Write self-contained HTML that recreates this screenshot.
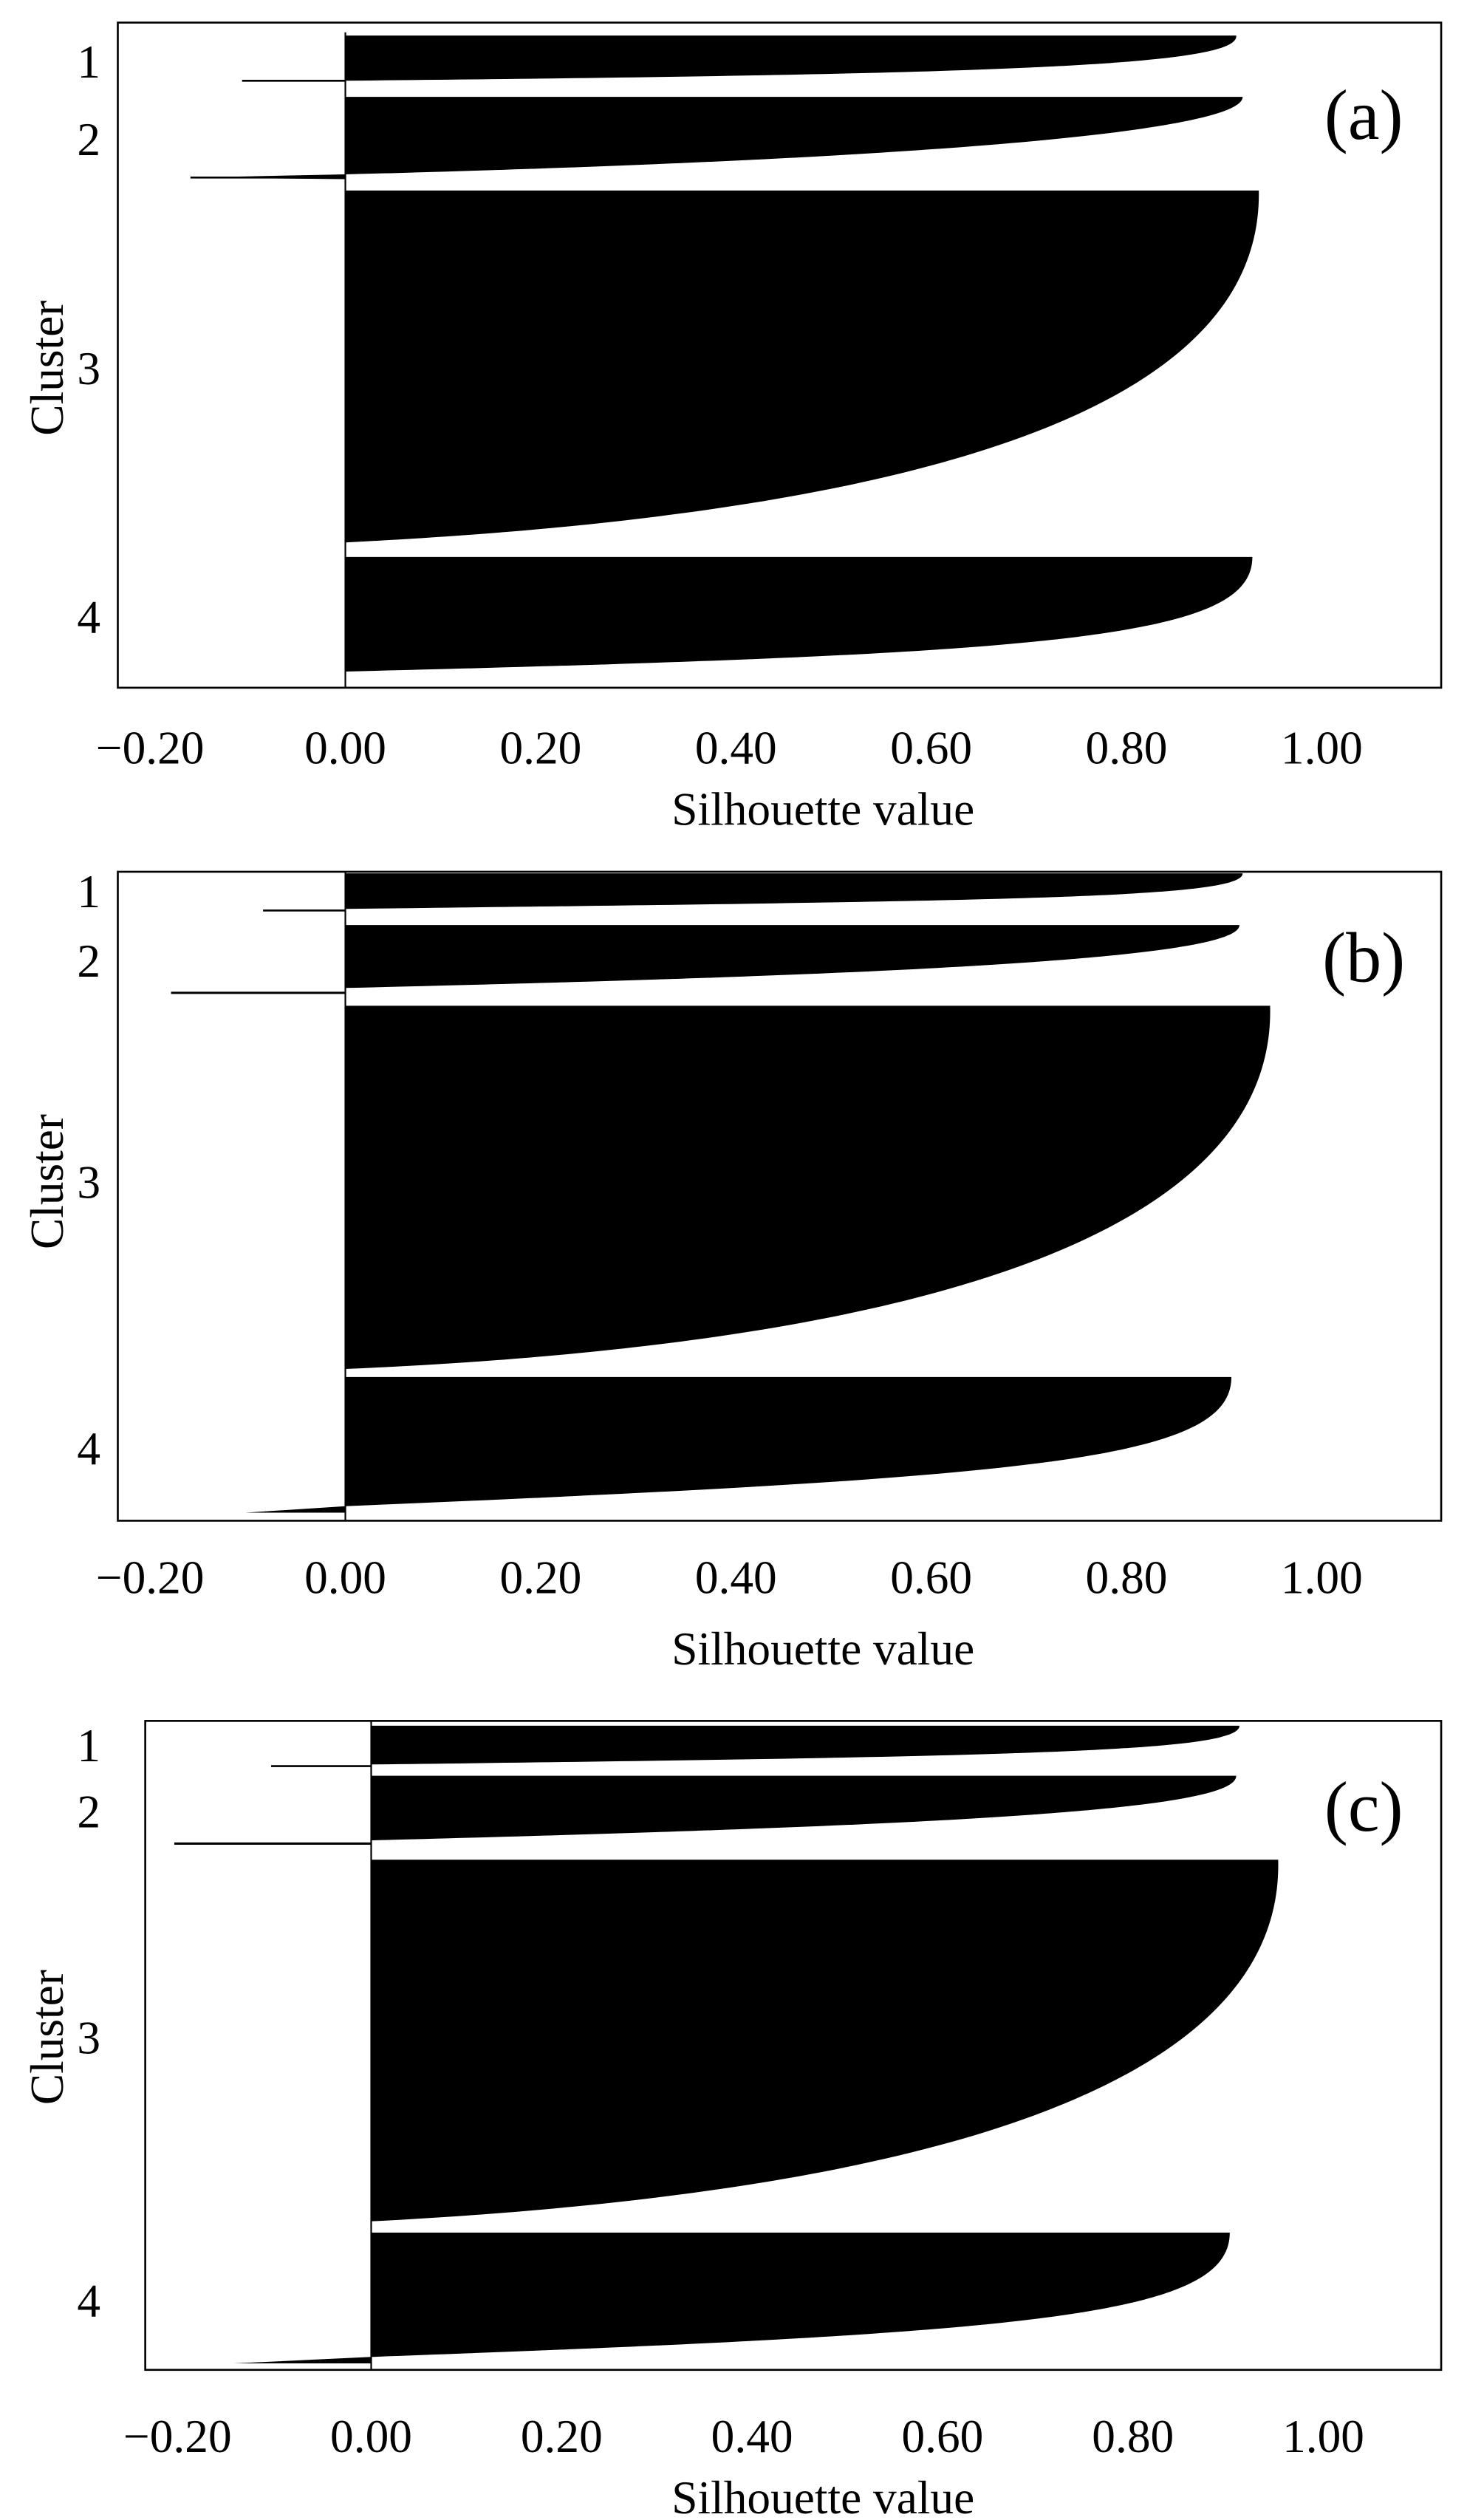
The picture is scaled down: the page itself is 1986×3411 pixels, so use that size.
<!DOCTYPE html>
<html><head><meta charset="utf-8"><style>
html,body{margin:0;padding:0;background:#fff;}
svg{display:block;}
text{font-family:"Liberation Serif",serif;fill:#000;}
</style></head><body>
<svg width="1986" height="3411" viewBox="0 0 909 1561" preserveAspectRatio="none" xmlns="http://www.w3.org/2000/svg">
<!-- Panel a -->
<g>
<rect x="73" y="14" width="820" height="412" fill="none" stroke="#000" stroke-width="1.2"/>
<line x1="214" y1="20" x2="214" y2="426" stroke="#000" stroke-width="1"/>
<path d="M214,22 L766,22 C768,40 640,46 214,50 Z"/>
<line x1="150" y1="50" x2="214" y2="50" stroke="#000" stroke-width="1.2"/>
<path d="M214,60 L770,60 C770,80 600,98 214,108 Z"/>
<path d="M118,110 L214,108 L214,111 Z"/>
<line x1="118" y1="110" x2="214" y2="110" stroke="#000" stroke-width="1.2"/>
<path d="M214,118 L780,118 C782,230 640,315 214,336 Z"/>
<path d="M214,345 L776,345 C776,395 660,405 214,416 Z"/>
<g font-size="29" text-anchor="middle">
<text x="93" y="473">−0.20</text><text x="214" y="473">0.00</text><text x="335" y="473">0.20</text><text x="456" y="473">0.40</text><text x="577" y="473">0.60</text><text x="698" y="473">0.80</text><text x="819" y="473">1.00</text>
<text x="510" y="511">Silhouette value</text>
<text x="55" y="48">1</text><text x="55" y="96">2</text><text x="55" y="238">3</text><text x="55" y="392">4</text>
<text transform="translate(39,228) rotate(-90)">Cluster</text>
</g>
<text x="845" y="86" font-size="44" text-anchor="middle">(a)</text>
</g>
<!-- Panel b -->
<g>
<rect x="73" y="540" width="820" height="402" fill="none" stroke="#000" stroke-width="1.2"/>
<line x1="214" y1="540" x2="214" y2="942" stroke="#000" stroke-width="1"/>
<path d="M214,541 L770,541 C770,556 640,558 214,563 Z"/>
<line x1="163" y1="564" x2="214" y2="564" stroke="#000" stroke-width="1.2"/>
<path d="M214,573 L768,573 C768,592 600,603 214,612 Z"/>
<line x1="106" y1="615" x2="214" y2="615" stroke="#000" stroke-width="1.4"/>
<path d="M214,623 L787,623 C790,740 640,830 214,848 Z"/>
<path d="M214,853 L763,853 C763,905 640,915 214,933 Z"/>
<path d="M152,937 L214,933 L214,937 Z"/>
<g font-size="29" text-anchor="middle">
<text x="93" y="987">−0.20</text><text x="214" y="987">0.00</text><text x="335" y="987">0.20</text><text x="456" y="987">0.40</text><text x="577" y="987">0.60</text><text x="698" y="987">0.80</text><text x="819" y="987">1.00</text>
<text x="510" y="1031">Silhouette value</text>
<text x="55" y="562">1</text><text x="55" y="605">2</text><text x="55" y="742">3</text><text x="55" y="907">4</text>
<text transform="translate(39,732) rotate(-90)">Cluster</text>
</g>
<text x="845" y="608" font-size="44" text-anchor="middle">(b)</text>
</g>
<!-- Panel c -->
<g>
<rect x="90" y="1066" width="803" height="402" fill="none" stroke="#000" stroke-width="1.2"/>
<line x1="230" y1="1066" x2="230" y2="1468" stroke="#000" stroke-width="1"/>
<path d="M230,1069 L768,1069 C768,1085 640,1088 230,1093 Z"/>
<line x1="168" y1="1094" x2="230" y2="1094" stroke="#000" stroke-width="1.2"/>
<path d="M230,1100 L766,1100 C766,1120 620,1130 230,1140 Z"/>
<line x1="108" y1="1142" x2="230" y2="1142" stroke="#000" stroke-width="1.4"/>
<path d="M230,1152 L792,1152 C795,1270 640,1355 230,1376 Z"/>
<path d="M230,1383 L762,1383 C762,1435 640,1445 230,1460 Z"/>
<path d="M145,1464 L230,1460 L230,1464 Z"/>
<g font-size="29" text-anchor="middle">
<text x="110" y="1519">−0.20</text><text x="230" y="1519">0.00</text><text x="348" y="1519">0.20</text><text x="466" y="1519">0.40</text><text x="584" y="1519">0.60</text><text x="702" y="1519">0.80</text><text x="820" y="1519">1.00</text>
<text x="510" y="1557">Silhouette value</text>
<text x="55" y="1091">1</text><text x="55" y="1132">2</text><text x="55" y="1272">3</text><text x="55" y="1435">4</text>
<text transform="translate(39,1262) rotate(-90)">Cluster</text>
</g>
<text x="845" y="1134" font-size="44" text-anchor="middle">(c)</text>
</g>
</svg>
</body></html>
